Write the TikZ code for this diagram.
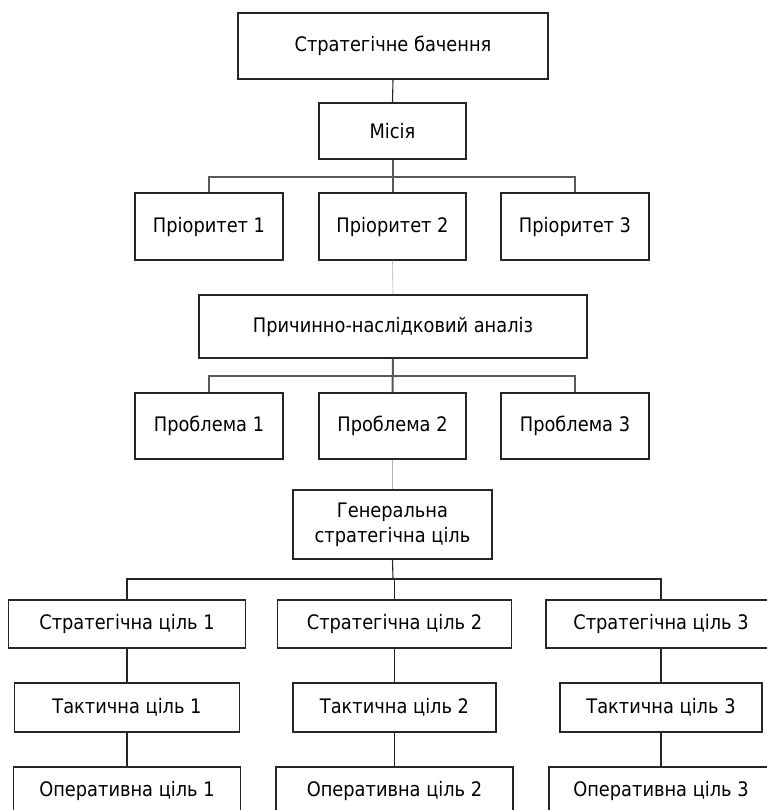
\documentclass[tikz,border=0pt]{standalone}
\usepackage{fontspec}
\setmainfont{DejaVu Sans}[FakeStretch=0.89]
\begin{document}
\begin{tikzpicture}[x=1pt,y=-1pt,
  box/.style={draw=black!85, line width=1.3pt, fill=white, minimum width=#1, inner sep=0pt, align=center,
    font=\fontsize{20}{25}\selectfont, text=black},
  topc/.style={draw=black!65, line width=2pt},
  thinc/.style={draw=black!30, line width=0.6pt},
  lowc/.style={draw=black!85, line width=1.1pt}]
\useasboundingbox (0,0) rectangle (767,810);
\fill[white] (0,0) rectangle (767,810);
% nodes
\node[box=310pt, minimum height=66pt] (sv) at (393,46) {Стратегічне бачення};
\node[box=147pt, minimum height=56pt] (mis) at (392.5,131) {Місія};
\node[box=148pt, minimum height=67pt] (p1) at (209,226.5) {Пріоритет 1};
\node[box=147pt, minimum height=67pt] (p2) at (392.5,226.5) {Пріоритет 2};
\node[box=148pt, minimum height=67pt] (p3) at (575,226.5) {Пріоритет 3};
\node[box=388pt, minimum height=63pt] (ca) at (393,326.5) {Причинно-наслідковий аналіз};
\node[box=148pt, minimum height=66pt] (pr1) at (209,426) {Проблема 1};
\node[box=147pt, minimum height=66pt] (pr2) at (392.5,426) {Проблема 2};
\node[box=148pt, minimum height=66pt] (pr3) at (575,426) {Проблема 3};
\node[box=199pt, minimum height=69pt] (gen) at (392.5,524.5) {Генеральна\\стратегічна ціль};
\node[box=237pt, minimum height=48pt] (s1) at (127,624) {Стратегічна ціль 1};
\node[box=234pt, minimum height=48pt] (s2) at (394.5,624) {Стратегічна ціль 2};
\node[box=230pt, minimum height=48pt] (s3) at (661,624) {Стратегічна ціль 3};
\node[box=225pt, minimum height=49pt] (t1) at (127,707.5) {Тактична ціль 1};
\node[box=203pt, minimum height=49pt] (t2) at (394.5,707.5) {Тактична ціль 2};
\node[box=202pt, minimum height=49pt] (t3) at (661,707.5) {Тактична ціль 3};
\node[box=227pt, minimum height=48pt] (o1) at (127,791) {Оперативна ціль 1};
\node[box=237pt, minimum height=48pt] (o2) at (394.5,791) {Оперативна ціль 2};
\node[box=224pt, minimum height=48pt] (o3) at (661,791) {Оперативна ціль 3};
% junction coordinates
\coordinate (b1) at (392.5,177.5);
\coordinate (b2) at (393,375.5);
\coordinate (b3) at (393,579);
% connectors
\draw[lowc] (sv.south) -- (mis.north);
\draw[topc] (mis.south) -- (p2.north);
\draw[topc] (p1.north) |- (b1) -| (p3.north);
\draw[thinc] (p2.south) -- (ca.north);
\draw[topc] (ca.south) -- (pr2.north);
\draw[topc] (pr1.north) |- (b2) -| (pr3.north);
\draw[thinc] (pr2.south) -- (gen.north);
\draw[lowc] (gen.south) -- (b3);
\draw[lowc] (s1.north) |- (b3) -| (s3.north);
\draw[lowc] (b3) -| (s2.north);
\draw[lowc] (s1.south) -- (t1.north);
\draw[lowc] (s2.south) -- (t2.north);
\draw[lowc] (s3.south) -- (t3.north);
\draw[lowc] (t1.south) -- (o1.north);
\draw[lowc] (t2.south) -- (o2.north);
\draw[lowc] (t3.south) -- (o3.north);
\end{tikzpicture}
\end{document}
